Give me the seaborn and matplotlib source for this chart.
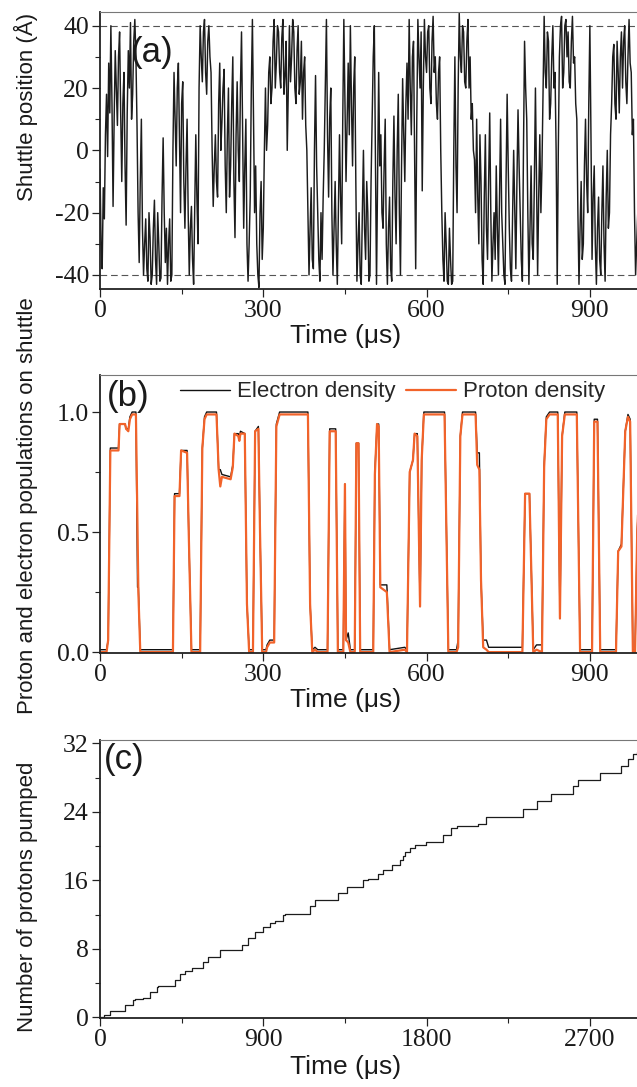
import numpy as np
import pandas as pd
import matplotlib
matplotlib.use("Agg")
import matplotlib.pyplot as plt
from matplotlib.ticker import MultipleLocator, FormatStrFormatter
import seaborn as sns

# ---------------- data ----------------
# (a) shuttle position, sampled every 2 microseconds from t = 0
a_step_us = 2
shuttle_pos = [
    -6, -30, -38, -12, -22, 5, 18, -2, 28, 12, 40, 15, -18, 10, 32, 20, 8, 30, 38, 12,
    -10, 15, 25, -5, -24, 12, 32, 20, 41, 10, 18, 35, 42, 30, 8, -20, -36, -10, 10, -25,
    -40, -30, -22, -38, -42, -20, -28, -43, -40, -25, -16, -35, -43, -20, -30, -42, -41, -15, 4, -20,
    -36, -25, -43, -30, -22, -42, -40, 0, 25, 10, -5, 20, 28, 5, -20, 15, 22, -10, -25, -5,
    10, -20, -40, -25, -18, -35, -43, -20, 5, -15, -30, 20, 40, 30, 22, 38, 42, 25, 18, 35,
    40, 30, 25, 0, -18, -5, 5, -10, -15, 15, 28, 0, 9, 20, 26, -5, -20, 5, 20, -15,
    -5, 15, 30, -10, -28, 5, 22, 0, -10, 20, 38, 5, -25, -5, 10, -30, -42, -30, -15, 20,
    42, 10, -20, -5, -30, -40, -44, -20, -10, -35, -25, 0, 20, 0, 8, 25, 30, 15, 20, 35,
    42, 20, 28, 40, 38, 25, 20, 36, 42, 18, 24, 35, 0, 20, 40, 22, 30, 42, 38, 20,
    15, 32, 40, 18, 22, 35, 10, 25, 30, 8, 0, -20, -40, -25, -12, -35, -38, 0, 24, -5,
    -20, -35, -42, -20, -35, -15, 0, 20, 42, 5, -15, 10, 20, -20, -40, -25, -10, -30, -43, -20,
    5, -15, -30, 10, 42, 15, -10, 10, 28, 5, 40, 15, -5, 20, 30, -10, -42, -30, -20, -40,
    -43, -20, 0, -25, -35, -10, -20, -42, -40, -10, 10, 30, 40, 0, -43, -10, 25, -5, 5, -20,
    -25, -5, 10, -30, -43, -25, -15, -38, -42, -10, 11, -15, -30, 0, 18, -20, -40, -5, 23, 5,
    -10, 15, 28, 10, 42, 20, 5, 30, 35, 0, -38, 10, 42, 30, 20, 38, -13, 20, 42, 30,
    25, 38, 40, 20, 15, 35, 43, 25, 30, 15, 10, 25, 30, 0, -20, -35, -42, -20, -30, -42,
    -43, -25, -35, -43, -42, 0, 30, -5, -20, 20, 44, 30, 25, 40, 38, 22, 20, 35, 42, 20,
    30, 10, 15, 0, -3, -20, 10, -15, -30, 5, -10, -35, -43, -15, 5, -25, -35, -10, 12, -20,
    -42, -30, -20, -35, -5, -25, -40, -15, 10, -20, -30, -40, -43, -10, 18, -5, -25, -38, -42, -20,
    0, -20, -38, -10, 13, -5, -20, -35, -42, 0, 35, 20, 10, -20, -43, -25, -5, -30, -35, -10,
    20, -10, -40, -15, 5, -20, -5, 20, 43, 25, 20, 38, 35, 10, 15, 30, 40, 20, 25, 0,
    -43, 0, 30, 40, 43, 20, 25, 40, 42, 30, 38, 22, 20, 35, 43, 28, 30, 15, 10, -20,
    -43, -25, -10, -35, -30, -5, 10, -10, -20, 15, 40, 5, -35, -15, -5, -30, -43, -25, -15, -35,
    -40, -20, -5, -30, -42, -15, 0, -25, -20, 5, 15, 30, 34, 15, 10, 35, 25, 12, 30, 38,
    20, 35, 40, 22, 15, 30, 42, 28, 25, 5, 10, -20, -40, -30, -20,
]
a_bound = [40, -40]

# (b) populations on the shuttle (breakpoints)
b_time = [0, 12, 15, 19, 34, 36, 46, 48, 52, 55, 59, 66, 69, 70.5, 74,
          134, 137, 146, 149, 160, 163, 168,
          184, 188, 192, 196, 214, 218, 221, 224, 240, 244, 247, 254, 256, 258, 266, 270, 274,
          281, 285, 291, 294, 298, 305, 307, 312, 320, 324, 330, 382, 386, 390, 395, 400,
          418, 422, 433, 437, 447, 450, 452, 456, 460, 468, 471, 475, 478,
          502, 505, 509, 512, 515, 527, 532, 560, 564, 569, 575, 578, 583, 588, 591, 595,
          633, 640, 655, 658, 662, 666, 690, 693, 697, 700, 704, 710, 714,
          776, 781, 789, 796, 802, 812, 816, 820, 826, 841, 845, 849, 854, 876, 882,
          904, 908, 914, 919, 948, 952, 958, 965, 970, 974, 979, 983, 987, 995]
b_electron = [0.01, 0.01, 0.05, 0.85, 0.85, 0.95, 0.95, 0.93, 0.93, 0.98, 1.0, 1.0, 0.27, 0.27, 0.01,
              0.01, 0.66, 0.66, 0.84, 0.84, 0.5, 0.01,
              0.01, 0.85, 0.98, 1.0, 1.0, 0.76, 0.76, 0.74, 0.73, 0.78, 0.91, 0.91, 0.89, 0.92, 0.91, 0.2, 0.01,
              0.01, 0.92, 0.94, 0.5, 0.01, 0.01, 0.03, 0.05, 0.05, 0.95, 1.0, 1.0, 0.2, 0.01, 0.02, 0.01,
              0.01, 0.93, 0.93, 0.01, 0.01, 0.70, 0.05, 0.08, 0.01, 0.01, 0.87, 0.87, 0.01,
              0.01, 0.75, 0.95, 0.95, 0.28, 0.28, 0.01, 0.02, 0.01, 0.75, 0.80, 0.91, 0.91, 0.19, 0.8, 1.0,
              1.0, 0.01, 0.01, 0.05, 0.9, 1.0, 1.0, 0.83, 0.83, 0.3, 0.05, 0.05, 0.02,
              0.02, 0.66, 0.66, 0.01, 0.03, 0.03, 0.78, 0.98, 1.0, 1.0, 0.14, 0.9, 1.0, 1.0, 0.01,
              0.01, 0.97, 0.97, 0.01, 0.01, 0.42, 0.45, 0.92, 0.99, 0.97, 0.01, 0.01, 0.5, 0.9]
b_proton = [0.0, 0.0, 0.05, 0.84, 0.84, 0.95, 0.95, 0.93, 0.92, 0.97, 0.99, 0.99, 0.5, 0.25, 0.0,
            0.0, 0.65, 0.65, 0.84, 0.83, 0.5, 0.0,
            0.0, 0.85, 0.97, 0.99, 0.99, 0.76, 0.69, 0.73, 0.72, 0.77, 0.91, 0.90, 0.88, 0.91, 0.91, 0.2, 0.0,
            0.0, 0.92, 0.93, 0.5, 0.0, 0.0, 0.02, 0.04, 0.04, 0.94, 0.99, 0.99, 0.2, 0.0, 0.01, 0.0,
            0.0, 0.92, 0.92, 0.0, 0.0, 0.70, 0.05, 0.04, 0.0, 0.0, 0.87, 0.87, 0.0,
            0.0, 0.74, 0.95, 0.94, 0.27, 0.25, 0.0, 0.01, 0.0, 0.75, 0.80, 0.91, 0.90, 0.19, 0.8, 0.99,
            0.99, 0.0, 0.0, 0.02, 0.9, 0.99, 0.99, 0.78, 0.76, 0.3, 0.02, 0.01, 0.0,
            0.0, 0.66, 0.66, 0.0, 0.01, 0.0, 0.77, 0.97, 0.99, 0.99, 0.14, 0.9, 0.99, 0.99, 0.0,
            0.0, 0.96, 0.96, 0.0, 0.0, 0.42, 0.44, 0.92, 0.98, 0.96, 0.0, 0.0, 0.5, 0.9]

# (c) cumulative number of protons pumped (value after each time, step plot)
c_time = [0, 20, 55, 138, 184, 193, 239, 275, 312, 321, 413, 441, 468, 505, 569, 597, 661,
          780, 817, 854, 900, 937, 964, 1010, 1020, 1157, 1185, 1313, 1359, 1451, 1478,
          1534, 1561, 1607, 1653, 1668, 1680, 1708, 1735, 1799, 1891, 1937, 1965, 2084,
          2130, 2332, 2406, 2488, 2608, 2635, 2755, 2874, 2911, 2939, 2959, 3000]
c_count = [0, 0.3, 0.7, 1.4, 2.0, 2.1, 2.2, 2.9, 3.5, 3.7, 4.4, 5.0, 5.4, 5.8, 6.5, 7.1, 7.9,
           8.5, 9.3, 10.0, 10.5, 11.0, 11.3, 12.0, 12.1, 12.96, 13.7, 14.5, 15.2, 16.0, 16.1,
           16.8, 17.2, 17.8, 18.4, 18.9, 19.3, 19.8, 20.1, 20.5, 21.3, 22.1, 22.3, 22.6,
           23.4, 24.3, 25.3, 26.1, 27.0, 27.7, 28.5, 29.4, 30.2, 30.8, 31.0, 31.0]

# ---------------- style ----------------
sns.set_theme(style="ticks")
plt.rcParams["font.family"] = ["Liberation Sans", "DejaVu Sans"]
plt.rcParams["axes.unicode_minus"] = False
plt.rcParams["axes.edgecolor"] = "#222222"

W, H = 637, 1087
fig = plt.figure(figsize=(W / 100, H / 100), dpi=100)


def px_axes(left, top, bottom, width):
    return fig.add_axes([left / W, 1 - bottom / H, width / W, (bottom - top) / H])


ax1 = px_axes(100, 12, 289, 544.3)
ax2 = px_axes(100, 375.3, 653.3, 544.3)
ax3 = px_axes(100, 740, 1017.7, 544.3)

INK = "#1c1c1c"

# (a)
df_a = pd.DataFrame({"t": np.arange(len(shuttle_pos)) * a_step_us, "x": shuttle_pos})
for yb in a_bound:
    ax1.axhline(yb, color="#555555", lw=0.8, dashes=(6, 3.5), zorder=1)
sns.lineplot(data=df_a, x="t", y="x", ax=ax1, color=INK, lw=1.05,
             estimator=None, sort=False, zorder=2)
ax1.set_xlim(0, 1000)
ax1.set_ylim(-44.5, 44.4)
ax1.yaxis.set_major_locator(MultipleLocator(20))
ax1.yaxis.set_minor_locator(MultipleLocator(10))

# (b)
df_b = pd.DataFrame({"t": b_time, "e": b_electron, "p": b_proton})
sns.lineplot(data=df_b, x="t", y="e", ax=ax2, color="#111111", lw=1.0,
             estimator=None, sort=False, label="Electron density")
sns.lineplot(data=df_b, x="t", y="p", ax=ax2, color="#F2632A", lw=1.6,
             estimator=None, sort=False, label="Proton density")
ax2.set_xlim(0, 1000)
ax2.set_ylim(-0.005, 1.153)
ax2.yaxis.set_major_locator(MultipleLocator(0.5))
ax2.yaxis.set_minor_locator(MultipleLocator(0.25))
ax2.yaxis.set_major_formatter(FormatStrFormatter("%.1f"))
ax2.legend(loc="center left", bbox_to_anchor=(0.147, 0.94), ncol=2, frameon=False,
           fontsize=16, handlelength=2.25, handletextpad=0.3, columnspacing=0.5,
           borderaxespad=0, borderpad=0)

# (c)
df_c = pd.DataFrame({"t": c_time, "n": c_count})
sns.lineplot(data=df_c, x="t", y="n", ax=ax3, color=INK, lw=0.9,
             estimator=None, sort=False, drawstyle="steps-post")
ax3.set_xlim(0, 3000)
ax3.set_ylim(-0.05, 32.4)
ax3.yaxis.set_major_locator(MultipleLocator(8))
ax3.yaxis.set_minor_locator(MultipleLocator(4))

for ax in (ax1, ax2):
    ax.xaxis.set_major_locator(MultipleLocator(300))
    ax.xaxis.set_minor_locator(MultipleLocator(150))
ax3.xaxis.set_major_locator(MultipleLocator(900))
ax3.xaxis.set_minor_locator(MultipleLocator(450))

ylabels = ["Shuttle position (Å)", "Proton and electron populations on shuttle",
           "Number of protons pumped"]
ylab_pos = [0.659, 0.53, 0.436]
xlab_y = [-0.126, -0.125, -0.134]
tags = ["(a)", "(b)", "(c)"]
tag_pos = [(0.056, 0.852), (0.013, 0.922), (0.008, 0.928)]

for ax, yl, yp, xy, tag, tp in zip((ax1, ax2, ax3), ylabels, ylab_pos, xlab_y, tags, tag_pos):
    ax.spines["right"].set_visible(False)
    ax.spines["left"].set_linewidth(1.3)
    ax.spines["bottom"].set_linewidth(1.3)
    ax.spines["top"].set_linewidth(0.8)
    ax.spines["top"].set_color("#777777")
    ax.tick_params(which="major", direction="out", length=6, width=0.9, color="#222222",
                   labelsize=18.5, labelcolor="#1a1a1a", labelfontfamily="Liberation Serif",
                   top=False, right=False, pad=2)
    ax.tick_params(which="minor", direction="out", length=3.5, width=0.8, color="#222222",
                   top=False, right=False)
    ax.set_xlabel("Time (μs)", fontsize=19, color="#1a1a1a")
    ax.xaxis.set_label_coords(0.452, xy)
    ax.set_ylabel(yl, fontsize=16, color="#1a1a1a")
    ax.yaxis.set_label_coords(-0.114, yp)
    ax.text(tp[0], tp[1], tag, transform=ax.transAxes, fontsize=25, color="#1a1a1a",
            ha="left", va="center")

fig.savefig("out.png", dpi=100)
